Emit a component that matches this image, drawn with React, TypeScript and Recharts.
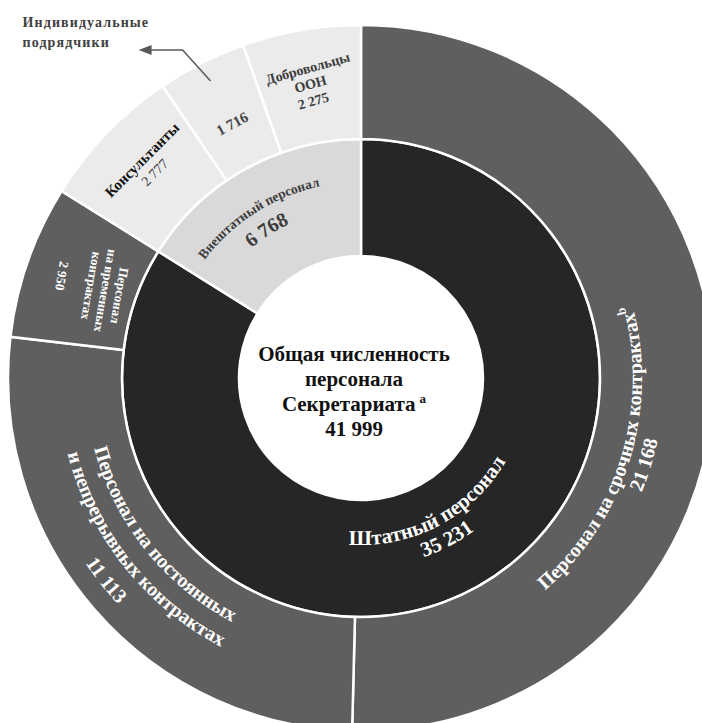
import { PieChart, Pie, Cell } from "recharts"

const innerNames = ["Штатный персонал", "Внештатный персонал"]
const innerValues = [35231, 6768]
const innerColors = ["#262626", "#d9d9d9"]

const outerNames = [
  "Персонал на срочных контрактах",
  "Персонал на постоянных и непрерывных контрактах",
  "Персонал на временных контрактах",
  "Консультанты",
  "Индивидуальные подрядчики",
  "Добровольцы ООН",
]
const outerValues = [21168, 11113, 2950, 2777, 1716, 2275]
const outerColors = ["#5f5f5f", "#5f5f5f", "#5f5f5f", "#ebebeb", "#ebebeb", "#ebebeb"]

// label text per slice; the value line is added from the data
const innerLabelLines = [["Штатный персонал"], ["Внештатный персонал"]]
const outerLabelLines = [
  ["Персонал на срочных контрактах"],
  ["Персонал на постоянных", "и непрерывных контрактах"],
  ["Персонал", "на временных", "контрактах"],
  ["Консультанты"],
  [],
  ["Добровольцы", "ООН"],
]
const outerNotes = ["b", "", "", "", "", ""]
const centerLines = ["Общая численность", "персонала", "Секретариата"]
const centerNote = "a"
const calloutLines = ["Индивидуальные", "подрядчики"]

const innerData = innerNames.map((name, i) => ({ name, value: innerValues[i] }))
const outerData = outerNames.map((name, i) => ({ name, value: outerValues[i] }))
const total = innerValues.reduce((a, b) => a + b, 0)

const FONT = '"Liberation Serif", "Times New Roman", serif'
const RAD = Math.PI / 180

type Layout = {
  mode: "arcIn" | "arcOut" | "flatIn" | "flatOut"
  shift: number
  radii: number[] // baseline radius for arcs, glyph centre for flat text
  sizes: number[]
  weights: number[]
  colors: string[]
  tilt?: number
  half?: number
  callout?: boolean
}

const innerLayout: Layout[] = [
  { mode: "arcIn", shift: -1, radii: [167, 190], sizes: [21, 21], weights: [700, 700], colors: ["#fff", "#fff"], half: 70 },
  { mode: "arcOut", shift: 3.5, radii: [196, 170], sizes: [13.5, 20], weights: [700, 700], colors: ["#3c3c3c", "#3c3c3c"], half: 50 },
]

const outerLayout: Layout[] = [
  { mode: "arcIn", shift: -16.3, radii: [281, 303], sizes: [20, 20], weights: [700, 700], colors: ["#fff", "#fff"], half: 60 },
  { mode: "arcIn", shift: -2.5, radii: [276, 303, 332], sizes: [20, 20, 20], weights: [700, 700, 700], colors: ["#fff", "#fff", "#fff"], half: 45 },
  { mode: "flatIn", shift: 0.5, radii: [255, 270, 285, 316], sizes: [13, 13, 13, 13], weights: [700, 700, 700, 700], colors: ["#fff", "#fff", "#fff", "#fff"], tilt: -9 },
  { mode: "flatOut", shift: -1, radii: [309, 291], sizes: [15, 14], weights: [700, 400], colors: ["#111", "#333"] },
  { mode: "flatOut", shift: 0, radii: [285], sizes: [15], weights: [700], colors: ["#444"], tilt: -1, callout: true },
  { mode: "flatOut", shift: 0, radii: [314, 298, 281], sizes: [14, 14, 14], weights: [700, 700, 700], colors: ["#3c3c3c", "#3c3c3c", "#3c3c3c"], tilt: -6 },
]

const pt = (cx: number, cy: number, r: number, a: number) => [cx + r * Math.cos(a * RAD), cy - r * Math.sin(a * RAD)]

const fmt = (v: number) => String(v).replace(/\B(?=(\d{3})+(?!\d))/g, " ")

function arcPath(cx: number, cy: number, r: number, mid: number, half: number, outward: boolean) {
  const a1 = outward ? mid + half : mid - half
  const a2 = outward ? mid - half : mid + half
  const [x1, y1] = pt(cx, cy, r, a1)
  const [x2, y2] = pt(cx, cy, r, a2)
  return `M ${x1} ${y1} A ${r} ${r} 0 ${2 * half > 180 ? 1 : 0} ${outward ? 1 : 0} ${x2} ${y2}`
}

function Callout({ x, y }: { x: number; y: number }) {
  const ex = x - 28
  const ey = y - 31
  const tx = ex - 44
  return (
    <g>
      <polyline points={`${x},${y} ${ex},${ey} ${tx + 10},${ey}`} fill="none" stroke="#595959" strokeWidth={1.5} />
      <polygon points={`${tx},${ey} ${tx + 13},${ey - 5} ${tx + 13},${ey + 5}`} fill="#595959" />
      {calloutLines.map((t, i) => (
        <text key={i} x={tx - 116} y={ey - 23 + i * 20} fontFamily={FONT} fontSize={14} fontWeight={700} fill="#404040" letterSpacing={1.1}>
          {t}
        </text>
      ))}
    </g>
  )
}

function CenterText({ cx, cy }: { cx: number; cy: number }) {
  const x = cx - 7
  return (
    <g fontFamily={FONT} fontSize={21} fontWeight={700} fill="#111" textAnchor="middle">
      <text x={x} y={cy - 17}>{centerLines[0]}</text>
      <text x={x} y={cy + 8}>{centerLines[1]}</text>
      <text x={x} y={cy + 33}>
        {centerLines[2]}
        <tspan dx={4} dy={-8} fontSize={13}>{centerNote}</tspan>
      </text>
      <text x={x} y={cy + 58}>{fmt(total)}</text>
    </g>
  )
}

function makeLabel(ring: string, lines: string[][], notes: string[], layout: Layout[]) {
  return (props: any) => {
    const { cx, cy, midAngle, index, value, outerRadius } = props
    const L = layout[index]
    const texts = [...lines[index], fmt(value)]
    const mid = midAngle + L.shift
    const note = notes[index]
    const noteLine = texts.length - 2
    return (
      <g key={`${ring}-${index}`}>
        {texts.map((t, i) => {
          const size = L.sizes[i]
          const common = {
            fontFamily: FONT,
            fontSize: size,
            fontWeight: L.weights[i],
            fill: L.colors[i],
          }
          const sup = note && i === noteLine ? (
            <tspan dy={-8} fontSize={13}>{note}</tspan>
          ) : null
          if (L.mode === "arcIn" || L.mode === "arcOut") {
            const id = `arc-${ring}-${index}-${i}`
            return (
              <g key={i}>
                <defs>
                  <path id={id} d={arcPath(cx, cy, L.radii[i], mid, L.half ?? 60, L.mode === "arcOut")} />
                </defs>
                <text {...common}>
                  <textPath href={`#${id}`} startOffset="50%" textAnchor="middle">
                    {t}
                    {sup}
                  </textPath>
                </text>
              </g>
            )
          }
          const [x, y] = pt(cx, cy, L.radii[i], mid)
          const rot = (L.mode === "flatOut" ? 90 - mid : -mid - 90) + (L.tilt ?? 0)
          return (
            <text key={i} {...common} x={x} y={y} textAnchor="middle" dominantBaseline="central" transform={`rotate(${rot} ${x} ${y})`}>
              {t}
              {sup}
            </text>
          )
        })}
        {L.callout ? (() => {
          const [x, y] = pt(cx, cy, outerRadius - 20, midAngle)
          return <Callout x={x} y={y} />
        })() : null}
        {ring === "inner" && index === 0 ? <CenterText cx={cx} cy={cy} /> : null}
      </g>
    )
  }
}

export default function App() {
  return (
    <div style={{ position: "absolute", left: 0, top: 0, width: 702, height: 723, background: "#fff" }}>
      <PieChart width={702} height={723} margin={{ top: 0, right: 0, bottom: 0, left: 0 }}>
        <Pie
          data={innerData}
          dataKey="value"
          nameKey="name"
          cx={361}
          cy={378}
          innerRadius={122}
          outerRadius={239}
          startAngle={90}
          endAngle={-270}
          stroke="#fff"
          strokeWidth={2.5}
          labelLine={false}
          label={makeLabel("inner", innerLabelLines, ["", ""], innerLayout)}
          isAnimationActive={false}
        >
          {innerData.map((d, i) => (
            <Cell key={d.name} fill={innerColors[i]} />
          ))}
        </Pie>
        <Pie
          data={outerData}
          dataKey="value"
          nameKey="name"
          cx={361}
          cy={378}
          innerRadius={239}
          outerRadius={353}
          startAngle={90}
          endAngle={-270}
          stroke="#fff"
          strokeWidth={2.5}
          labelLine={false}
          label={makeLabel("outer", outerLabelLines, outerNotes, outerLayout)}
          isAnimationActive={false}
        >
          {outerData.map((d, i) => (
            <Cell key={d.name} fill={outerColors[i]} />
          ))}
        </Pie>
      </PieChart>
    </div>
  )
}
